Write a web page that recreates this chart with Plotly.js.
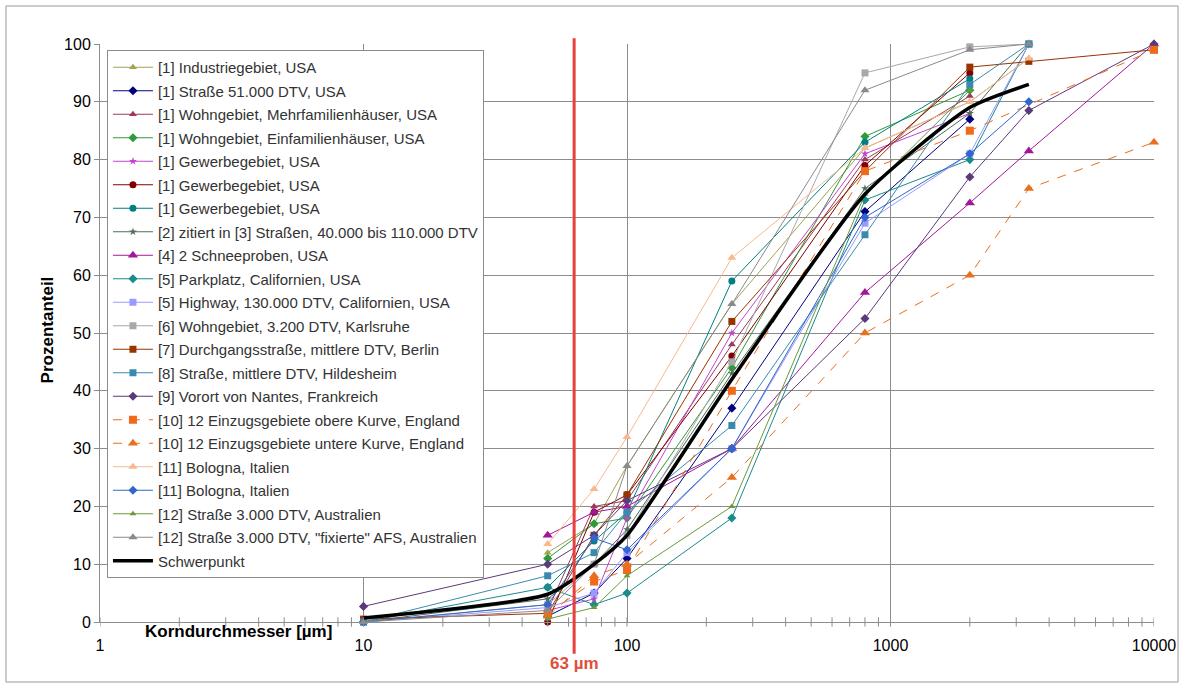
<!DOCTYPE html>
<html>
<head>
<meta charset="utf-8">
<script src="https://cdn.plot.ly/plotly-3.0.1.min.js"></script>
<style>
html,body{margin:0;padding:0;background:#fff;}
#chart{width:1184px;height:688px;}
</style>
</head>
<body>
<div id="chart"></div>
<script>
// ---------- data ----------
const seriesNames = [
  "[1] Industriegebiet, USA",
  "[1] Straße 51.000 DTV, USA",
  "[1] Wohngebiet, Mehrfamilienhäuser, USA",
  "[1] Wohngebiet, Einfamilienhäuser, USA",
  "[1] Gewerbegebiet, USA",
  "[1] Gewerbegebiet, USA",
  "[1] Gewerbegebiet, USA",
  "[2] zitiert in [3] Straßen, 40.000 bis 110.000 DTV",
  "[4] 2 Schneeproben, USA",
  "[5] Parkplatz, Californien, USA",
  "[5] Highway, 130.000 DTV, Californien, USA",
  "[6] Wohngebiet, 3.200 DTV, Karlsruhe",
  "[7] Durchgangsstraße, mittlere DTV, Berlin",
  "[8] Straße, mittlere DTV, Hildesheim",
  "[9] Vorort von Nantes, Frankreich",
  "[10] 12 Einzugsgebiete obere Kurve, England",
  "[10] 12 Einzugsgebiete untere Kurve, England",
  "[11] Bologna, Italien",
  "[11] Bologna, Italien",
  "[12] Straße 3.000 DTV, Australien",
  "[12] Straße 3.000 DTV, \"fixierte\" AFS, Australien",
  "Schwerpunkt"
];

const xIndustrie = [50,75,100,250,800,2000,3350];
const yIndustrie = [12,17,27,55,82,90,97.5];
const xStrasse51 = [50,75,100,250,800,2000];
const yStrasse51 = [1,5,11,37,71,87];
const xMehrfam = [50,75,100,250,800,2000];
const yMehrfam = [2,20,21,48,80,91];
const xEinfam = [50,75,100,250,800,2000];
const yEinfam = [11,17,18,44,84,92];
const xGewerbeA = [50,75,100,250,800,2000];
const yGewerbeA = [2,4,18,50,81,88];
const xGewerbeB = [50,75,100,250,800,2000];
const yGewerbeB = [0,19,22,46,79,95];
const xGewerbeC = [50,75,100,250,800,2000];
const yGewerbeC = [6,14,19,59,83,94];
const xStrassen2 = [10,50,75,100,250,800,2000,3350];
const yStrassen2 = [0,4,10,16,43,75,88,100];
const xSchnee = [50,75,100,250,800,2000,3350,10000];
const ySchnee = [15,19,20,30,57,72.5,81.5,100];
const xParkplatz = [10,50,75,100,250,800,2000,3350];
const yParkplatz = [0,6,3,5,18,73,80,100];
const xHighway = [10,50,75,100,250,800,2000,3350];
const yHighway = [0,2.5,5,12,30,69,81,100];
const xKarlsruhe = [10,50,75,100,250,800,2000,3350];
const yKarlsruhe = [0,3,10,15,45,95,99.5,100];
const xBerlin = [10,50,75,100,250,800,2000,3350,10000];
const yBerlin = [0.5,1.5,15,22,52,78,96,97,99];
const xHildesheim = [10,50,75,100,250,800,2000,3350];
const yHildesheim = [0,8,12,19,34,67,93,100];
const xNantes = [10,50,75,100,250,800,2000,3350,10000];
const yNantes = [2.7,10,15,21,30,52.5,77,88.5,100];
const xObere = [50,75,100,250,800,2000,10000];
const yObere = [1.5,7,9,40,78,85,99];
const xUntere = [50,75,100,250,800,2000,3350,10000];
const yUntere = [1,8,10,25,50,60,75,83];
const xBolognaA = [50,75,100,250,800,2000,3350];
const yBolognaA = [13.5,23,32,63,82,90,97.5];
const xBolognaB = [10,50,75,100,250,800,2000,3350];
const yBolognaB = [0,3,14.5,12.5,30,70,81,90];
const xAustralien = [50,75,100,250,800,2000];
const yAustralien = [0.5,2.5,8,20,74,92];
const xFixiert = [10,50,75,100,250,800,2000,3350];
const yFixiert = [0,2,10,27,55,92,99,100];
const xSchwerpunkt = [10,50,75,100,250,800,2000,3350];
const ySchwerpunkt = [0.7,4.8,10,15,42,74,89,93];

const xTickVals = [1,10,100,1000,10000];
const xTickText = ["1","10","100","1000","10000"];
const yTickVals = [0,10,20,30,40,50,60,70,80,90,100];
const refSize = 63;
const refLabel = "63 µm";

// minor tick positions 2..9 in each decade
const xMinorVals = [];
for (let d = 0; d < xTickVals.length - 1; d++) {
  for (let m = 2; m <= 9; m++) xMinorVals.push(xTickVals[d] * m);
}

// ---------- styles ----------
const xs = [xIndustrie,xStrasse51,xMehrfam,xEinfam,xGewerbeA,xGewerbeB,xGewerbeC,xStrassen2,xSchnee,xParkplatz,xHighway,xKarlsruhe,xBerlin,xHildesheim,xNantes,xObere,xUntere,xBolognaA,xBolognaB,xAustralien,xFixiert,xSchwerpunkt];
const ys = [yIndustrie,yStrasse51,yMehrfam,yEinfam,yGewerbeA,yGewerbeB,yGewerbeC,yStrassen2,ySchnee,yParkplatz,yHighway,yKarlsruhe,yBerlin,yHildesheim,yNantes,yObere,yUntere,yBolognaA,yBolognaB,yAustralien,yFixiert,ySchwerpunkt];
const colors = ["#a3a256","#000080","#9c3a5e","#2e9a3a","#c044d0","#800000","#008080","#4f6d58","#a0189a","#1a8a8a","#9999ff","#a8a8a8","#993300","#3a8ab0","#5b3a7a","#f06a1a","#e8701e","#f8b890","#3366cc","#6a9a3a","#8a8a8a","#000000"];
const symbols = ["triangle-up","diamond","triangle-up","diamond","star","circle","circle","star","triangle-up","diamond","square","square","square","square","diamond","square","triangle-up","triangle-up","diamond","triangle-up","triangle-up","circle"];
const sizes = [7,7,7,7,6,7,7,6,9,7,7,7,7,7,7,8,9,8,7,6,8,0];
const dashes = ["solid","solid","solid","solid","solid","solid","solid","solid","solid","solid","solid","solid","solid","solid","solid","dash","dash","solid","solid","solid","solid","solid"];

const traces = seriesNames.map((name, i) => {
  const last = i === seriesNames.length - 1;
  return {
    type: "scatter",
    x: xs[i], y: ys[i], name: name,
    legendgroup: "g" + i,
    mode: last ? "lines" : "lines+markers",
    line: {color: colors[i], width: last ? 3.5 : 1, dash: dashes[i], shape: last ? "spline" : "linear", smoothing: 0.6},
    marker: {symbol: symbols[i], size: sizes[i], color: colors[i], line: {width: 0}},
    cliponaxis: false
  };
});

const font = "Liberation Sans, Arial, sans-serif";
const xRange = [Math.log10(xTickVals[0]), Math.log10(xTickVals[xTickVals.length - 1])];

// cross-style tick marks on the x axis (Excel look)
const tickShapes = xMinorVals.concat(xTickVals).map(v => ({
  type: "line", xref: "x", yref: "paper", x0: v, x1: v, y0: -0.008, y1: 0.008,
  line: {color: "#8c8c8c", width: 1}, layer: "above"
}));

const layout = {
  width: 1184, height: 688,
  margin: {l: 100, r: 30, t: 44, b: 66},
  paper_bgcolor: "#ffffff", plot_bgcolor: "#ffffff",
  font: {family: font, size: 12, color: "#000"},
  showlegend: true,
  legend: {
    x: 0.0066, y: 0.9896, xanchor: "left", yanchor: "top",
    bgcolor: "#ffffff", bordercolor: "#8c8c8c", borderwidth: 1,
    font: {family: font, size: 15, color: "#333"},
    tracegroupgap: 1, traceorder: "grouped", itemwidth: 40
  },
  xaxis: {
    type: "log", range: xRange,
    tickvals: xTickVals, ticktext: xTickText,
    showgrid: true, gridcolor: "#8c8c8c", gridwidth: 1,
    showline: true, linecolor: "#8c8c8c", linewidth: 1,
    ticks: "", ticklabelstandoff: 9,
    tickfont: {family: font, size: 16, color: "#000"},
    zeroline: false, mirror: false
  },
  yaxis: {
    range: [0, 100], tickvals: yTickVals,
    showgrid: true, gridcolor: "#8c8c8c", gridwidth: 1,
    showline: true, linecolor: "#8c8c8c", linewidth: 1,
    ticks: "outside", ticklen: 5, tickcolor: "#8c8c8c",
    tickfont: {family: font, size: 16, color: "#000"},
    zeroline: false
  },
  shapes: [
    {type: "line", xref: "x", yref: "paper", x0: refSize, x1: refSize, y0: -0.055, y1: 1.01,
     line: {color: "#e8413c", width: 3}},
    {type: "rect", xref: "paper", yref: "paper", x0: -0.0892, x1: 1.0228, y0: -0.1038, y1: 1.0657,
     line: {color: "#9a9a9a", width: 1}, fillcolor: "rgba(0,0,0,0)", layer: "below"}
  ].concat(tickShapes),
  annotations: [
    {text: "<b>Korndurchmesser [µm]</b>", xref: "paper", yref: "paper", x: 0.131, y: -0.0173,
     xanchor: "center", yanchor: "middle", showarrow: false, font: {family: font, size: 17, color: "#000"}},
    {text: "<b>Prozentanteil</b>", xref: "paper", yref: "paper", x: -0.05, y: 0.505, textangle: -90,
     xanchor: "center", yanchor: "middle", showarrow: false, font: {family: font, size: 17, color: "#000"}},
    {text: "<b>" + refLabel + "</b>", xref: "x", yref: "paper", x: Math.log10(refSize), y: -0.071,
     xanchor: "center", yanchor: "middle", showarrow: false, font: {family: font, size: 17, color: "#e0503a"}}
  ]
};

Plotly.newPlot("chart", traces, layout, {displayModeBar: false, staticPlot: true});
</script>
</body>
</html>
